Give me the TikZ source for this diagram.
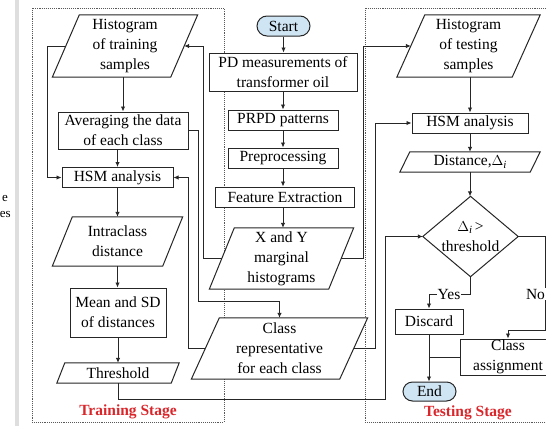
\documentclass[tikz,border=0pt]{standalone}
\usepackage{fontspec}
\setmainfont{Liberation Serif}
\usetikzlibrary{arrows.meta,calc,shapes.misc}
\pgfdeclarelayer{framelayer}
\pgfdeclarelayer{shapelayer}
\pgfsetlayers{framelayer,shapelayer,main}
\definecolor{termblue}{HTML}{CFE5F3}
\definecolor{stagered}{HTML}{D9262B}
\newcommand\drawparagram[2]{%
  \begin{pgfonlayer}{shapelayer}
  \draw[boxline,fill=white] ($(#1.north west)+(#2,0)$) -- ($(#1.north east)+(#2,0)$) -- ($(#1.south east)+(-#2,0)$) -- ($(#1.south west)+(-#2,0)$) -- cycle;
  \end{pgfonlayer}}
\newcommand\di{$\Delta$\raisebox{-0.3ex}{\fontsize{11}{11}\selectfont\itshape i}}
\begin{document}
\begin{tikzpicture}[x=1pt,y=-1pt,
  every node/.style={font=\fontsize{15.5}{20}\selectfont, inner sep=0pt, align=center},
  boxline/.style={line width=1pt, black!85},
  sz/.style 2 args={minimum width=#1pt, minimum height=#2pt},
  rbox/.style={draw=black!85, line width=1pt, fill=white, rectangle},
  pbox/.style={rectangle},
  term/.style={draw=black!85, line width=1pt, fill=termblue, rounded rectangle},
  conn/.style={line width=0.9pt, black!85, -{Latex[length=5pt,width=4.5pt]}},
  plain/.style={line width=0.9pt, black!85},
  lbl/.style={fill=white, inner sep=1pt},
  stage/.style={text=stagered, font=\fontsize{15.5}{20}\selectfont\bfseries},
  frame/.style={densely dotted, line width=0.9pt, black!65},
  frag/.style={font=\fontsize{13}{15}\selectfont, anchor=east}
]
\useasboundingbox (0,0) rectangle (546,426);
% page fragments at the left edge
\fill[black!13] (15,0) rectangle (19,426);
\node[frag] (fragA) at (8,198) {e};
\node[frag] (fragB) at (11,214) {es};

% stage frames
\begin{pgfonlayer}{framelayer}
\draw[frame] (32,8) rectangle (224,422);
\draw[frame] (365,8) rectangle (600,422);
\end{pgfonlayer}

% centre column
\node[term, sz={53}{20}] (start) at (283.5,26) {Start};
\node[rbox, sz={148}{38}] (pd) at (283,72) {PD measurements of\\transformer oil};
\node[rbox, sz={110}{20}] (prpd) at (283,120) {PRPD patterns};
\node[rbox, sz={110}{20}] (prep) at (283,158) {Preprocessing};
\node[rbox, sz={139}{20}] (feat) at (285,197) {Feature Extraction};
\node[pbox, sz={119}{61}] (xy) at (281.5,258.5) {X and Y\\marginal\\histograms};
\drawparagram{xy}{12.5}
\node[pbox, sz={148}{61}] (cls) at (279.5,348.5) {Class\\representative\\for each class};
\drawparagram{cls}{14}

% training column
\node[pbox, sz={118}{62}] (th) at (125,46) {Histogram\\of training\\samples};
\drawparagram{th}{13.5}
\node[rbox, sz={130}{37}] (avg) at (123,130.5) {Averaging the data\\of each class};
\node[rbox, sz={111}{20}] (hsm1) at (117.5,177.5) {HSM analysis};
\node[pbox, sz={110}{49}] (intra) at (117.5,241.5) {Intraclass\\distance};
\drawparagram{intra}{10}
\node[rbox, sz={96}{49}] (msd) at (118,312.5) {Mean and SD\\of distances};
\node[pbox, sz={114}{20}] (thr) at (118,373) {Threshold};
\drawparagram{thr}{4}
\node[stage] (trainlbl) at (128,412) {Training Stage};

% testing column
\node[pbox, sz={115}{62}] (tsh) at (468.5,46) {Histogram\\of testing\\samples};
\drawparagram{tsh}{14}
\node[rbox, sz={116}{20}] (hsm2) at (470,123) {HSM analysis};
\node[pbox, sz={130}{20}] (dist) at (470,162) {Distance,\di};
\drawparagram{dist}{5}
\node[pbox, sz={95}{80}] (dec) at (470.5,236.5) {\di\,>\\threshold};
\begin{pgfonlayer}{shapelayer}
\draw[boxline, fill=white] (dec.north) -- (dec.east) -- (dec.south) -- (dec.west) -- cycle;
\end{pgfonlayer}
\node[rbox, sz={68}{25}] (disc) at (429,321.5) {Discard};
\node[rbox, sz={96}{36}] (cas) at (508,357) {Class\\assignment};
\node[term, sz={53}{19}] (endn) at (429.5,391.5) {End};
\node[stage] (testlbl) at (468,413) {Testing Stage};

% junction points
\coordinate (jL) at (203,0);
\coordinate (jR) at (363,0);
\coordinate (jA) at (198,301);
\coordinate (jB) at (188,0);
\coordinate (jC) at (375,0);
\coordinate (jD) at (47,0);
\coordinate (jE) at (385,399);
\coordinate (jY) at (0,294);
\coordinate (jN) at (545,330);

% centre flow
\draw[conn] (start.south) -- (start.south |- pd.north);
\draw[conn] (pd.south) -- (pd.south |- prpd.north);
\draw[conn] (prpd.south) -- (prep.north);
\draw[conn] (prep.south) -- (prep.south |- feat.north);
\draw[conn] (prep.south |- feat.south) -- (prep.south |- xy.north);

% feedback connectors
\draw[conn] (xy.west) -| (jL |- th.east) -- (th.east);
\draw[conn] (xy.east) -| (jR |- tsh.west) -- (tsh.west);
\draw[conn] (avg.east) -| (jA) -| (cls.north);
\draw[conn] (cls.west) -| (jB |- hsm1.east) -- (hsm1.east);
\draw[conn] (cls.east) -| (jC |- hsm2.west) -- (hsm2.west);
\draw[conn] (th.west) -| (jD |- hsm1.west) -- (hsm1.west);

% training flow
\draw[conn] (avg.north |- th.south) -- (avg.north);
\draw[conn] (hsm1.north |- avg.south) -- (hsm1.north);
\draw[conn] (hsm1.south) -- (hsm1.south |- intra.north);
\draw[conn] (hsm1.south |- intra.south) -- (hsm1.south |- msd.north);
\draw[conn] (msd.south) -- (msd.south |- thr.north);
\draw[conn] (thr.south) |- (jE) |- (dec.west);

% testing flow
\draw[conn] (hsm2.north |- tsh.south) -- (hsm2.north);
\draw[conn] (hsm2.south) -- (hsm2.south |- dist.north);
\draw[conn] (dist.south) -- (dist.south |- dec.north);
\draw[conn] (dec.south) |- (disc.north |- jY) -- (disc.north);
\node[lbl] (yes) at (449,294) {Yes};
\draw[conn] (dec.east) -| (jN) -| (cas.north);
\node[lbl] (no) at (535.5,294) {No};
\draw[conn] (disc.south) -- (disc.south |- endn.north);
\draw[plain] (cas.west) -- (disc.south |- cas.west);
\end{tikzpicture}
\end{document}
